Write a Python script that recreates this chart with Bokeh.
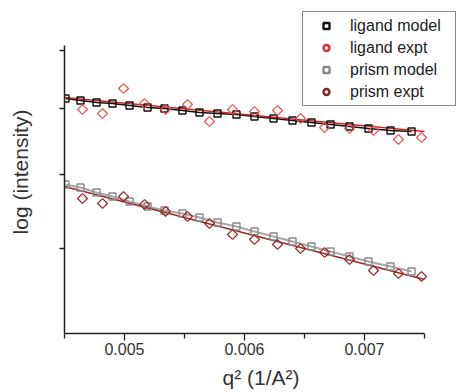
from bokeh.plotting import figure
from bokeh.models import (Range1d, FixedTicker, Legend, LegendItem,
                          CustomJSTickFormatter)
from bokeh.embed import file_html
from bokeh.resources import INLINE
import numpy as np

# ---- data ----
model_q2 = [0.004508, 0.004633, 0.004767, 0.004900, 0.005042, 0.005192, 0.005333,
            0.005483, 0.005625, 0.005775, 0.005933, 0.006083, 0.006242, 0.006400,
            0.006558, 0.006717, 0.006875, 0.007033, 0.007217, 0.007392]
ligand_model = [2.35, 2.33, 2.31, 2.30, 2.28, 2.26, 2.25, 2.23, 2.21, 2.20,
                2.19, 2.17, 2.15, 2.13, 2.11, 2.09, 2.07, 2.05, 2.03, 2.02]
prism_model = [1.49, 1.46, 1.41, 1.37, 1.32, 1.27, 1.23, 1.20, 1.16, 1.11,
               1.07, 1.02, 0.97, 0.92, 0.87, 0.82, 0.77, 0.72, 0.67, 0.62]

expt_q2 = [0.004650, 0.004817, 0.004992, 0.005167, 0.005342, 0.005525, 0.005708,
           0.005900, 0.006083, 0.006275, 0.006467, 0.006667, 0.006875, 0.007075,
           0.007283, 0.007475]
ligand_expt = [2.24, 2.20, 2.45, 2.30, 2.24, 2.29, 2.12, 2.24, 2.22, 2.23,
               2.15, 2.06, 2.05, 2.03, 1.94, 1.96]
prism_expt = [1.35, 1.30, 1.37, 1.29, 1.22, 1.17, 1.10, 0.99, 0.94, 0.89,
              0.85, 0.81, 0.74, 0.63, 0.60, 0.57]

fit_q2 = [0.0045, 0.0075]
ligand_fit = [2.36, 2.02]
prism_fit = [1.47, 0.54]

x_major = [0.005, 0.006, 0.007]
x_minor = [0.0045, 0.0055, 0.0065, 0.0075]
x_bounds = (0.0045, 0.0075)
y_ticks = [2.83, 2.25, 1.59, 0.85]
y_bounds = (0.0, 2.88)

FONT = "Liberation Sans"

# frame is widened/heightened to hold the legend; axis lines are bounded
p = figure(frame_width=393, frame_height=323,
           min_border_left=64, min_border_right=0,
           min_border_top=10, min_border_bottom=59,
           x_range=Range1d(0.0045, 0.0045 + 393 / 120000),
           y_range=Range1d(0, 3.23),
           output_backend="svg", toolbar_location=None)
# a far-away range used only by the legend-key renderers (keeps them off-frame)
p.extra_y_ranges = {"legend_only": Range1d(100, 101)}
p.outline_line_color = None
p.xgrid.visible = False
p.ygrid.visible = False
p.background_fill_color = "white"
p.border_fill_color = "white"

# x axis
xa = p.xaxis[0]
xa.bounds = x_bounds
xa.ticker = FixedTicker(ticks=x_major, minor_ticks=x_minor)
xa.major_label_overrides = {v: f"{v:.3f}" for v in x_major}
xa.axis_line_color = "#222222"
xa.axis_line_width = 1.5
xa.major_tick_line_color = "#222222"
xa.major_tick_line_width = 1.3
xa.major_tick_in = 0
xa.major_tick_out = 7
xa.minor_tick_line_color = "#222222"
xa.minor_tick_line_width = 1.3
xa.minor_tick_in = 0
xa.minor_tick_out = 5
xa.major_label_text_font = FONT
xa.major_label_text_font_size = "16px"
xa.major_label_text_color = "#333333"
xa.major_label_standoff = 2
xa.axis_label = "q\u00b2 (1/A\u00b2)"
xa.axis_label_text_font = FONT
xa.axis_label_text_font_size = "21px"
xa.axis_label_text_font_style = "normal"
xa.axis_label_text_color = "#333333"
xa.axis_label_standoff = 8

# y axis (ticks without labels)
ya = p.yaxis[0]
ya.bounds = y_bounds
ya.ticker = FixedTicker(ticks=y_ticks, minor_ticks=[])
ya.formatter = CustomJSTickFormatter(code="return ''")
ya.axis_line_color = "#222222"
ya.axis_line_width = 1.5
ya.major_tick_line_color = "#222222"
ya.major_tick_line_width = 1.3
ya.major_tick_in = 0
ya.major_tick_out = 5
ya.major_label_text_font_size = "1px"
ya.major_label_standoff = 0
ya.axis_label = "log (intensity)"
ya.axis_label_text_font = FONT
ya.axis_label_text_font_size = "21px"
ya.axis_label_text_font_style = "normal"
ya.axis_label_text_color = "#333333"
ya.axis_label_standoff = 28

# lines
p.line(model_q2, ligand_model, line_color="#111111", line_width=1.3)
p.line(model_q2, prism_model, line_color="#a8a8a8", line_width=2.2)
p.line(fit_q2, ligand_fit, line_color="#d42828", line_width=1.6)
p.line(fit_q2, prism_fit, line_color="#9e2626", line_width=1.4)

# markers
p.scatter(model_q2, ligand_model, marker="square", size=7, fill_color=None,
          line_color="#111111", line_width=1.4)
p.scatter(model_q2, prism_model, marker="square", size=7, fill_color=None,
          line_color="#8a8a8a", line_width=1.4)
p.scatter(expt_q2, ligand_expt, marker="square", angle=np.pi / 4, size=7,
          fill_color=None, line_color="#e85050", line_width=1.2)
p.scatter(expt_q2, prism_expt, marker="square", angle=np.pi / 4, size=7,
          fill_color=None, line_color="#9a2424", line_width=1.2)

# legend-key renderers (mapped to the far-away range, so only the key shows)
kw = dict(y_range_name="legend_only", size=6, fill_color="white", line_width=2.4)
r1 = p.scatter(model_q2, ligand_model, marker="square", line_color="#111111", **kw)
r2 = p.scatter(expt_q2, ligand_expt, marker="circle", line_color="#e02a2a", **kw)
r3 = p.scatter(model_q2, prism_model, marker="square", line_color="#8a8a8a", **kw)
r4 = p.scatter(expt_q2, prism_expt, marker="circle", line_color="#8a2020", **kw)

legend = Legend(items=[LegendItem(label="ligand model", renderers=[r1]),
                       LegendItem(label="ligand expt", renderers=[r2]),
                       LegendItem(label="prism model", renderers=[r3]),
                       LegendItem(label="prism expt", renderers=[r4])],
                location="top_right", margin=1, padding=4, spacing=3,
                glyph_width=38, glyph_height=15, label_height=19,
                label_standoff=5, label_width=101,
                label_text_font=FONT, label_text_font_size="16px",
                label_text_color="#222222",
                border_line_color="#111111", border_line_width=1,
                background_fill_color="white", background_fill_alpha=1)
p.add_layout(legend, "center")

open("out.html", "w").write(file_html(p, INLINE))
